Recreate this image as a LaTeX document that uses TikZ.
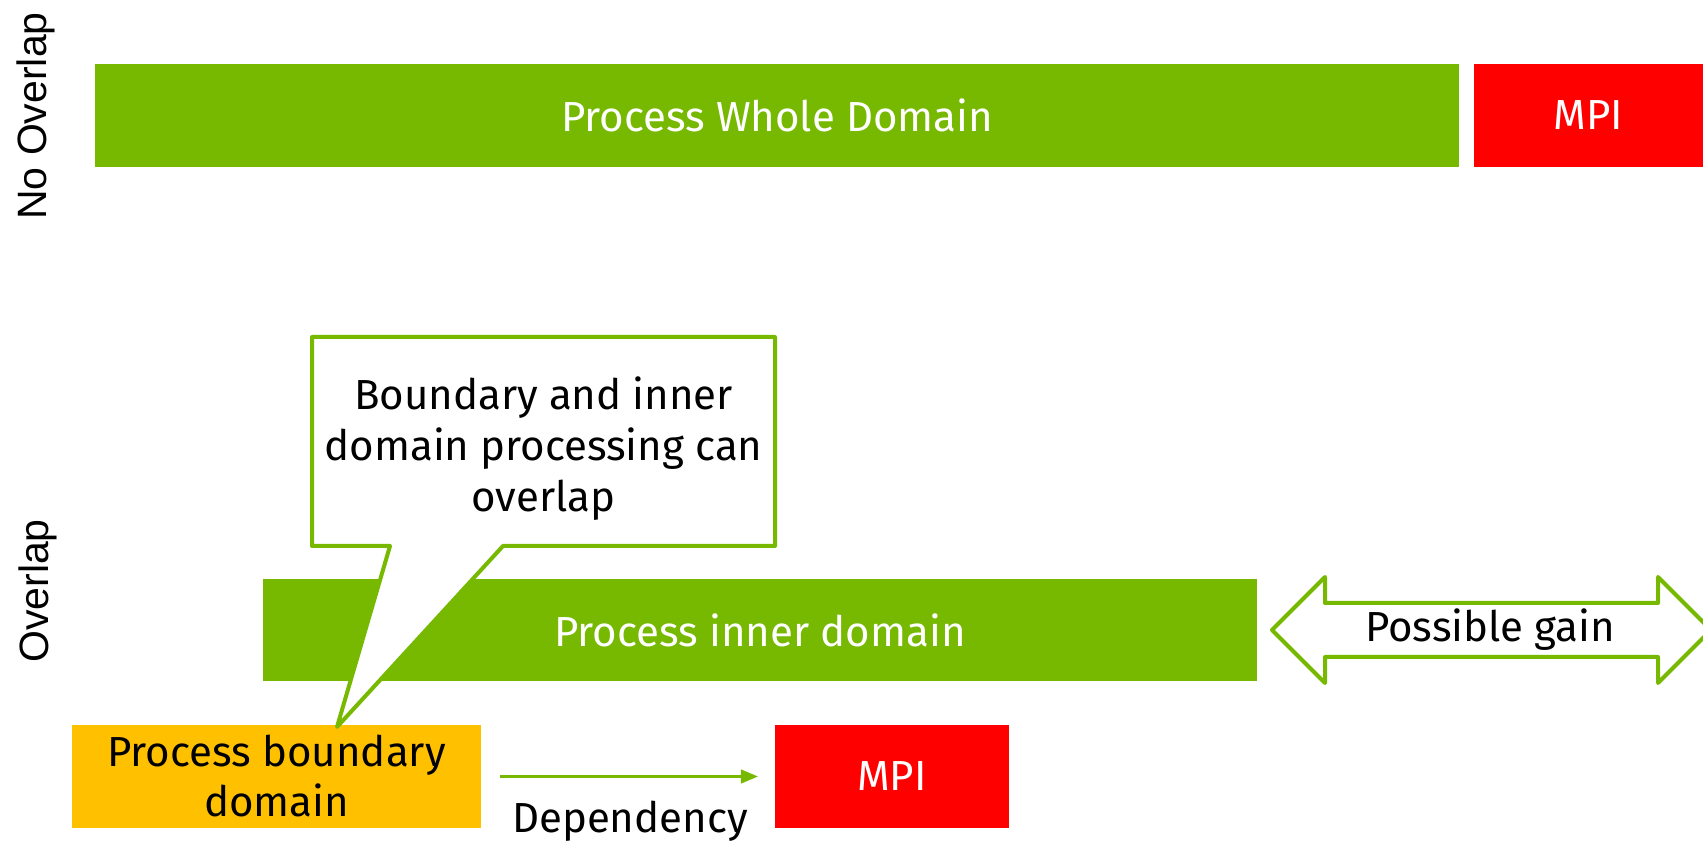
\documentclass[tikz,border=0pt]{standalone}
\usepackage{fontspec}
\setmainfont{Fira Sans}
\newfontfamily\sidefont{Liberation Sans}
\usetikzlibrary{arrows, positioning}
\definecolor{nvgreen}{HTML}{76B900}
\definecolor{mpired}{HTML}{FF0000}
\definecolor{bdorange}{HTML}{FFC000}
\tikzstyle{phase} = [rectangle, minimum height=103pt, text centered, inner sep=0pt, font=\fontsize{42}{50}\selectfont]
\tikzstyle{compute} = [phase, fill=nvgreen, text=white]
\tikzstyle{comm} = [phase, fill=mpired, text=white]
\tikzstyle{boundary} = [phase, fill=bdorange, text=black, align=center]
\tikzstyle{sidelabel} = [rotate=90, font=\sidefont\fontsize{41}{48}\selectfont]
\tikzstyle{plain} = [font=\fontsize{42}{51}\selectfont, align=center]
\tikzstyle{arrow} = [line width=3pt, draw=nvgreen, ->, >=triangle 45]
\tikzstyle{outline} = [draw=nvgreen, line width=4pt, fill=white, line join=round]

\begin{document}
\begin{tikzpicture}[x=1pt, y=1pt]
	\useasboundingbox (0,0) rectangle (1703,843);
	% no overlap
	\node (noov) [sidelabel] at (36,727) {No Overlap};
	\node (whole) [compute, minimum width=1364pt] at (777,727.5) {Process Whole Domain};
	\node (mpitop) [comm, minimum width=229pt] at (1588.5,727.5) {MPI};
	% overlap
	\node (ov) [sidelabel] at (38,252) {Overlap};
	\node (inner) [compute, minimum width=994pt, minimum height=102pt] at (760,213) {Process inner domain};
	\node (bound) [boundary, minimum width=409pt] at (276.5,66.5) {Process boundary\\domain};
	\node (mpibot) [comm, minimum width=234pt] at (892,66.5) {MPI};
	\draw [arrow, shorten <=19pt, shorten >=17pt] (bound) -- (mpibot);
	\node (dep) [plain] at (630,22) {Dependency};
	% callout
	\coordinate (tip) at (337,116);
	\draw [outline] (312,506) -- (775,506) -- (775,297) -- (503,297) -- (tip) -- (390,297) -- (312,297) -- cycle;
	\node (note) [plain] at (543.5,394) {Boundary and inner\\domain processing can\\overlap};
	% gain
	\draw [outline] (1272,213) -- (1325,266) -- (1325,240) -- (1658,240) -- (1658,266) -- (1711,213)
		-- (1658,160) -- (1658,186) -- (1325,186) -- (1325,160) -- cycle;
	\node (gain) [plain] at (1490,213) {Possible gain};
\end{tikzpicture}
\end{document}
